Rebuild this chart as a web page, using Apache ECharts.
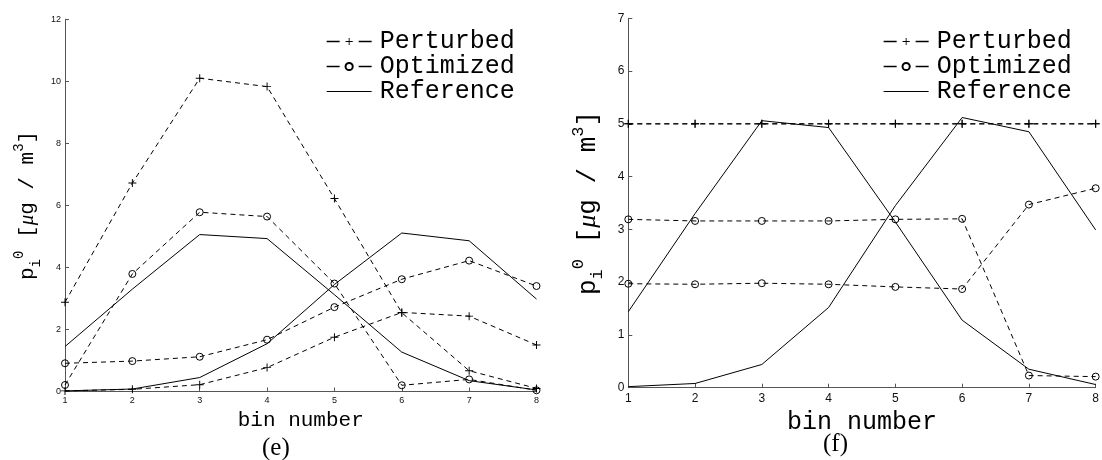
<!DOCTYPE html>
<html><head><meta charset="utf-8">
<script src="https://cdn.jsdelivr.net/npm/echarts@6/dist/echarts.min.js"></script>
<style>html,body{margin:0;padding:0;background:#fff}#c{width:1102px;height:460px}</style>
</head><body><div id="c"></div>
<script>
const bins = ['1','2','3','4','5','6','7','8'];
const eTicks = [0,2,4,6,8,10,12];
const fTicks = [0,1,2,3,4,5,6,7];
// panel (e)
const eRefA  = [1.45, 3.3, 5.06, 4.93, 3.12, 1.27, 0.35, 0.05];
const eRefB  = [0.02, 0.08, 0.45, 1.54, 3.45, 5.11, 4.86, 2.98];
const ePertA = [2.88, 6.72, 10.1, 9.83, 6.22, 2.54, 0.67, 0.1];
const ePertB = [0.02, 0.07, 0.22, 0.77, 1.75, 2.55, 2.43, 1.5];
const eOptA  = [0.21, 3.79, 5.78, 5.64, 3.48, 0.2, 0.39, 0.04];
const eOptB  = [0.91, 0.98, 1.12, 1.67, 2.72, 3.62, 4.22, 3.4];
// panel (f)
const fRefA  = [1.44, 3.3, 5.06, 4.93, 3.14, 1.28, 0.35, 0.06];
const fRefB  = [0.02, 0.08, 0.44, 1.52, 3.45, 5.12, 4.85, 2.99];
const fPertA = [5, 5, 5, 5, 5, 5, 5, 5];
const fPertB = [5, 5, 5, 5, 5, 5, 5, 5];
const fOptA  = [3.19, 3.16, 3.16, 3.16, 3.19, 3.2, 0.23, 0.21];
const fOptB  = [1.97, 1.96, 1.98, 1.96, 1.91, 1.87, 3.47, 3.78];

const PLUS = 'path://M4.4,0H5.6V4.4H10V5.6H5.6V10H4.4V5.6H0V4.4H4.4Z';
const MONO = "'Liberation Mono', 'DejaVu Sans Mono', monospace";
const SANS = "'Liberation Sans', Arial, sans-serif";
const SERIF = "'Liberation Serif', 'Times New Roman', serif";

function pert(data, idx){ return {name:'Perturbed', type:'line', xAxisIndex:idx, yAxisIndex:idx, data:data,
  symbol:PLUS, symbolSize:8, itemStyle:{color:'#000'}, lineStyle:{color:'#000', width:1, type:[5,4]}, z:3}; }
function opt(data, idx){ return {name:'Optimized', type:'line', xAxisIndex:idx, yAxisIndex:idx, data:data,
  symbol:'circle', symbolSize:7, itemStyle:{color:'rgba(0,0,0,0)', borderColor:'#000', borderWidth:1},
  lineStyle:{color:'#000', width:1, type:[5,4]}, z:3}; }
function ref(data, idx){ return {name:'Reference', type:'line', xAxisIndex:idx, yAxisIndex:idx, data:data,
  symbol:'none', itemStyle:{color:'#000'}, lineStyle:{color:'#000', width:1, type:'solid'}, z:2}; }

function yName(fs, sub){
  return {
    text: '{a|p}{s|i}{u|0}{a| [}{m|μ}{a|g / m}{u|3}{a|]}',
    rich: {
      a:{fontFamily:MONO, fontSize:fs, color:'#000', lineHeight:fs+10, verticalAlign:'middle'},
      m:{fontFamily:SERIF, fontStyle:'italic', fontSize:fs, color:'#000', lineHeight:fs+10, verticalAlign:'middle'},
      s:{fontFamily:MONO, fontSize:sub, color:'#000', verticalAlign:'bottom', lineHeight:fs+10},
      u:{fontFamily:MONO, fontSize:sub, color:'#000', verticalAlign:'top', lineHeight:fs+10}
    }
  };
}
const yn0 = yName(21, 14), yn1 = yName(26, 17);

function xAx(idx, fs, nameFs, gap){ return {type:'category', gridIndex:idx, data:bins, boundaryGap:false,
  name:'bin number', nameLocation:'middle', nameGap:gap,
  nameTextStyle:{fontFamily:MONO, fontSize:nameFs, color:'#000'},
  axisLine:{lineStyle:{color:'#555', width:1}}, axisTick:{inside:true, length:4, lineStyle:{color:'#555'}},
  axisLabel:{fontFamily:SANS, fontSize:fs, color:'#111', margin:5}, splitLine:{show:false}}; }
function yAx(idx, max, intv, fs, yn, gap){ return {type:'value', gridIndex:idx, min:0, max:max, interval:intv,
  name:yn.text, nameLocation:'middle', nameRotate:90, nameGap:gap,
  nameTextStyle:{rich:yn.rich},
  axisLine:{show:true, lineStyle:{color:'#555', width:1}}, axisTick:{show:true, inside:true, length:4, lineStyle:{color:'#555'}},
  axisLabel:{fontFamily:SANS, fontSize:fs, color:'#111', margin:4}, splitLine:{show:false}}; }

function legend(left){ return {orient:'vertical', left:left, top:24, itemWidth:45, itemHeight:9, itemGap:0,
  data:[
    {name:'Perturbed', lineStyle:{type:[13,19], width:1.3}},
    {name:'Optimized', lineStyle:{type:[13,19], width:1.3}},
    {name:'Reference', icon:'path://M0,0H45V1H0Z', itemStyle:{color:'#000'}}
  ],
  selectedMode:false,
  textStyle:{fontFamily:MONO, fontSize:25, color:'#000', lineHeight:24, padding:[0,0,0,3]}}; }

const chart = echarts.init(document.getElementById('c'), null, {renderer:'canvas'});
chart.setOption({
  animation:false,
  backgroundColor:'#fff',
  grid:[{left:65, top:19.3, width:471.5, height:372.2},{left:628.3, top:18.3, width:469, height:369.4}],
  xAxis:[xAx(0, 9, 21, 14), xAx(1, 12, 25, 12)],
  yAxis:[yAx(0, 12, 2, 9, yn0, 22), yAx(1, 7, 1, 12, yn1, 22)],
  legend:[legend(321), legend(878)],
  series:[
    pert(ePertA,0), pert(ePertB,0), opt(eOptA,0), opt(eOptB,0), ref(eRefA,0), ref(eRefB,0),
    pert(fPertA,1), pert(fPertB,1), opt(fOptA,1), opt(fOptB,1), ref(fRefA,1), ref(fRefB,1)
  ],
  graphic:[
    {type:'text', left:262, top:436, style:{text:'(e)', fontFamily:SERIF, fontSize:25, fill:'#000'}},
    {type:'text', left:823, top:432, style:{text:'(f)', fontFamily:SERIF, fontSize:25, fill:'#000'}}
  ]
});
</script></body></html>
